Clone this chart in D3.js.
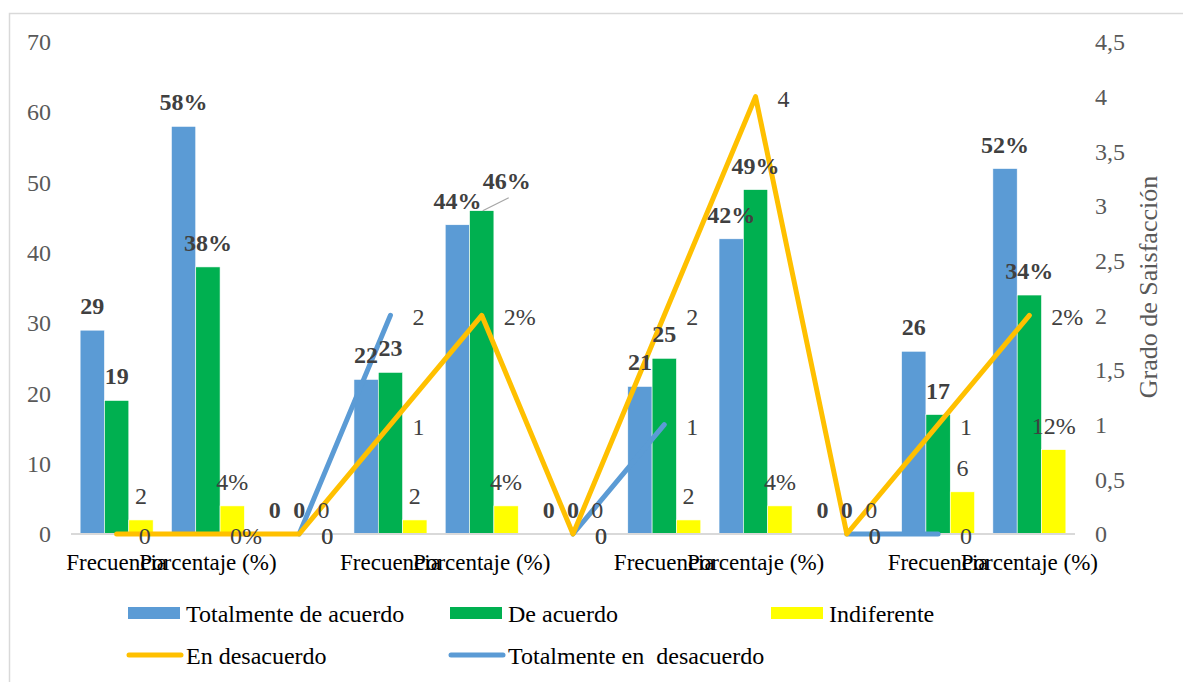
<!DOCTYPE html>
<html>
<head>
<meta charset="utf-8">
<script src="https://cdn.jsdelivr.net/npm/d3@7"></script>
<style>
  html, body { margin: 0; padding: 0; background: #fff; }
  svg { display: block; }
  svg text { font-family: "Liberation Serif", "Times New Roman", Times, serif; }
</style>
</head>
<body>
<svg id="chart" width="1183" height="682"></svg>
<script>
// Category labels (blank slots separate the four groups)
const categories = ["Frecuencia", "Porcentaje (%)", "", "Frecuencia", "Porcentaje (%)", "",
                    "Frecuencia", "Porcentaje (%)", "", "Frecuencia", "Porcentaje (%)"];

// Bar series (left axis)
const totalmenteDeAcuerdo = [29, 58, 0, 22, 44, 0, 21, 42, 0, 26, 52];
const deAcuerdo           = [19, 38, 0, 23, 46, 0, 25, 49, 0, 17, 34];
const indiferente         = [2, 4, 0, 2, 4, 0, 2, 4, 0, 6, 12];

// Line series (right axis, "Grado de Saisfacción")
const enDesacuerdo = [0, 0, 0, 1, 2, 0, 2, 4, 0, 1, 2];
const enDesacuerdoLabels = ["0", "0%", "0", "1", "2%", "0", "2", "4", "0", "1", "2%"];
const totalmenteEnDesacuerdo = [null, null, 0, 2, null, 0, 1, null, 0, 0, null];
const totalmenteEnDesacuerdoLabels = ["", "", "0", "2", "", "0", "1", "", "0", "0", ""];

// Axis ticks
const leftTicks = [0, 10, 20, 30, 40, 50, 60, 70];
const rightTicks = [0, 0.5, 1, 1.5, 2, 2.5, 3, 3.5, 4, 4.5];

const FONT = '"Liberation Serif", "Times New Roman", Times, serif';
const svg = d3.select("#chart");
const plot = { left: 71, right: 1075, top: 42, bottom: 534 };

// Chart frame
svg.append("rect")
  .attr("x", 9.5).attr("y", 13.5).attr("width", 1200).attr("height", 700)
  .attr("fill", "#fff").attr("stroke", "#d9d9d9").attr("stroke-width", 1.5);

const idx = categories.map((_, i) => i);
const x = d3.scaleBand().domain(idx).range([plot.left, plot.right]);
const bw = x.bandwidth();
const barSeries = [
  { name: "Totalmente de acuerdo", values: totalmenteDeAcuerdo, color: "#5B9BD5", bold: true },
  { name: "De acuerdo", values: deAcuerdo, color: "#00B050", bold: true },
  { name: "Indiferente", values: indiferente, color: "#FFFF00", bold: false }
];
const xs = d3.scaleBand().domain(d3.range(barSeries.length)).range([bw * 0.1, bw * 0.9]);
const yL = d3.scaleLinear().domain([0, 70]).range([plot.bottom, plot.top]);
const yR = d3.scaleLinear().domain([0, 4.5]).range([plot.bottom, plot.top]);

// Axes
const fmtComma = d => String(d).replace(".", ",");
const gL = svg.append("g").attr("transform", `translate(${plot.left},0)`)
  .call(d3.axisLeft(yL).tickValues(leftTicks).tickSize(0).tickPadding(20));
const gR = svg.append("g").attr("transform", `translate(${plot.right},0)`)
  .call(d3.axisRight(yR).tickValues(rightTicks).tickFormat(fmtComma).tickSize(0).tickPadding(20));
[gL, gR].forEach(g => {
  g.attr("font-family", FONT);
  g.select(".domain").remove();
  g.selectAll("text").attr("font-size", 24).attr("fill", "#595959").style("font-family", FONT);
});

// Right axis title
svg.append("text")
  .attr("transform", "translate(1157,287) rotate(-90)")
  .attr("text-anchor", "middle")
  .attr("font-size", 26).attr("fill", "#595959")
  .style("font-family", FONT)
  .text("Grado de Saisfacción");

// Bars
const isPct = i => categories[i].startsWith("Porcentaje");
const barLayer = svg.append("g");
barSeries.forEach((s, si) => {
  barLayer.selectAll(null).data(s.values).join("rect")
    .attr("x", (d, i) => x(i) + xs(si))
    .attr("y", d => yL(d))
    .attr("width", xs.bandwidth())
    .attr("height", d => plot.bottom - yL(d))
    .attr("fill", s.color)
    .attr("stroke", "#ffffff").attr("stroke-width", 0.6);
});

// Category axis line
svg.append("line")
  .attr("x1", plot.left).attr("x2", plot.right)
  .attr("y1", plot.bottom).attr("y2", plot.bottom)
  .attr("stroke", "#d9d9d9").attr("stroke-width", 2);

// Category labels
const gX = svg.append("g").attr("transform", `translate(0,${plot.bottom})`)
  .call(d3.axisBottom(x).tickFormat(i => categories[i]).tickSize(0).tickPadding(20));
gX.attr("font-family", FONT);
gX.select(".domain").remove();
gX.selectAll("text").attr("font-size", 23).attr("fill", "#000").style("font-family", FONT);

// Lines
const lineGen = d3.line()
  .defined(d => d != null)
  .x((d, i) => x(i) + bw / 2)
  .y(d => yR(d));
const lineSeries = [
  { name: "Totalmente en  desacuerdo", values: totalmenteEnDesacuerdo, labels: totalmenteEnDesacuerdoLabels, color: "#5B9BD5" },
  { name: "En desacuerdo", values: enDesacuerdo, labels: enDesacuerdoLabels, color: "#FFC000" }
];
lineSeries.forEach(s => {
  svg.append("path")
    .attr("d", lineGen(s.values))
    .attr("fill", "none").attr("stroke", s.color)
    .attr("stroke-width", 5).attr("stroke-linecap", "round").attr("stroke-linejoin", "round");
});

// Bar value labels (one label is pulled aside with a leader line)
const nudges = { "1-4": { dx: 25, dy: -6 } };
const labelLayer = svg.append("g");
barSeries.forEach((s, si) => {
  s.values.forEach((v, i) => {
    const cx = x(i) + xs(si) + xs.bandwidth() / 2;
    const by = yL(v) - 16;
    const n = nudges[`${si}-${i}`];
    const tx = cx + (n ? n.dx : 0), ty = by + (n ? n.dy : 0);
    if (n) {
      labelLayer.append("line")
        .attr("x1", cx + 1).attr("y1", yL(v))
        .attr("x2", tx + 2).attr("y2", ty + 9)
        .attr("stroke", "#a6a6a6").attr("stroke-width", 1.2);
    }
    labelLayer.append("text")
      .attr("x", tx).attr("y", ty)
      .attr("text-anchor", "middle")
      .attr("font-size", 24)
      .attr("font-weight", s.bold ? "bold" : "normal")
      .attr("fill", "#404040")
      .text(v + (isPct(i) && v !== 0 ? "%" : ""));
  });
});

// Line value labels
lineSeries.forEach(s => {
  s.values.forEach((v, i) => {
    if (v == null) return;
    labelLayer.append("text")
      .attr("x", x(i) + bw / 2 + 22)
      .attr("y", yR(v) + 10)
      .attr("font-size", 24).attr("fill", "#404040")
      .text(s.labels[i]);
  });
});

// Legend
const legend = svg.append("g").attr("font-size", 24).attr("fill", "#000");
const legendItems = [
  { type: "bar", s: barSeries[0], x: 128, y: 613 },
  { type: "bar", s: barSeries[1], x: 450, y: 613 },
  { type: "bar", s: barSeries[2], x: 771, y: 613 },
  { type: "line", s: lineSeries[1], x: 128, y: 655 },
  { type: "line", s: lineSeries[0], x: 450, y: 655 }
];
legendItems.forEach(it => {
  if (it.type === "bar") {
    legend.append("rect").attr("x", it.x).attr("y", it.y - 6)
      .attr("width", 52).attr("height", 12).attr("fill", it.s.color);
  } else {
    legend.append("line").attr("x1", it.x + 1).attr("x2", it.x + 53)
      .attr("y1", it.y).attr("y2", it.y)
      .attr("stroke", it.s.color).attr("stroke-width", 5).attr("stroke-linecap", "round");
  }
  legend.append("text").attr("x", it.x + 58).attr("y", it.y + 9).text(it.s.name)
    .style("white-space", "pre");
});
</script>
</body>
</html>
